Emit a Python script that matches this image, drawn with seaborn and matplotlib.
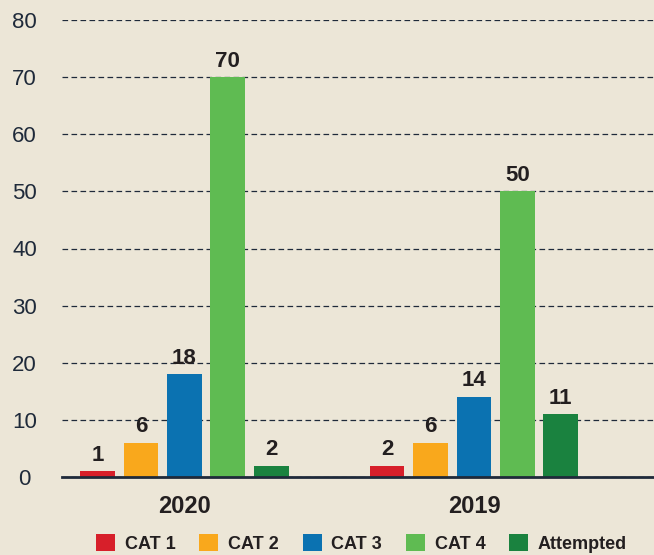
import pandas as pd
import matplotlib.pyplot as plt
import seaborn as sns

# Data
years = ['2020', '2019']
categories = ['CAT 1', 'CAT 2', 'CAT 3', 'CAT 4', 'Attempted']
values_2020 = [1, 6, 18, 70, 2]
values_2019 = [2, 6, 14, 50, 11]
colors = ['#d71f2a', '#f9a81c', '#0b72b1', '#5fbb52', '#1a823f']
y_ticks = [0, 10, 20, 30, 40, 50, 60, 70, 80]

BG = '#ece6d7'
INK = '#231f20'
AXIS = '#1f2a3a'

sns.set_style('white')
plt.rcParams['font.family'] = ['Liberation Sans', 'DejaVu Sans']

df = pd.DataFrame({
    'Year': [y for y in years for _ in categories],
    'Category': categories * len(years),
    'Count': values_2020 + values_2019,
})

fig = plt.figure(figsize=(6.54, 5.55), dpi=100, facecolor=BG)
ax = fig.add_axes([62 / 654, 78 / 555, 1 - 62 / 654, (477 - 20) / 555])
ax.set_facecolor(BG)

sns.barplot(
    data=df, x='Year', y='Count', hue='Category',
    order=years, hue_order=categories,
    palette=colors, width=0.75, gap=0.2, saturation=1,
    linewidth=0, ax=ax,
)

for container in ax.containers:
    ax.bar_label(container, padding=4, fontsize=16, fontweight='bold', color=INK)

ax.set_xlim(-0.4227, 1.6216)
ax.set_ylim(0, 80)
ax.set_yticks(y_ticks)
ax.yaxis.grid(True, color=AXIS, linestyle=(0, (4.5, 2.7)), linewidth=0.9)
ax.set_axisbelow(True)

for side in ['top', 'right', 'left']:
    ax.spines[side].set_visible(False)
ax.spines['bottom'].set_color(AXIS)
ax.spines['bottom'].set_linewidth(2)
ax.spines['bottom'].set_zorder(5)

ax.tick_params(axis='y', length=0, pad=27, labelsize=16, labelcolor=AXIS)
for lbl in ax.get_yticklabels():
    lbl.set_horizontalalignment('center')
ax.tick_params(axis='x', length=0, pad=13, labelsize=17, labelcolor=INK)
for lbl in ax.get_xticklabels():
    lbl.set_fontweight('bold')

ax.set_xlabel('')
ax.set_ylabel('')

ax.legend(
    loc='center', bbox_to_anchor=(0.506, -0.146), ncol=5, frameon=False,
    prop={'weight': 'bold', 'size': 13}, labelcolor=INK,
    handlelength=1.05, handleheight=1.05, handletextpad=0.55, columnspacing=1.3,
)

plt.savefig('out.png', dpi=100, facecolor=BG)
